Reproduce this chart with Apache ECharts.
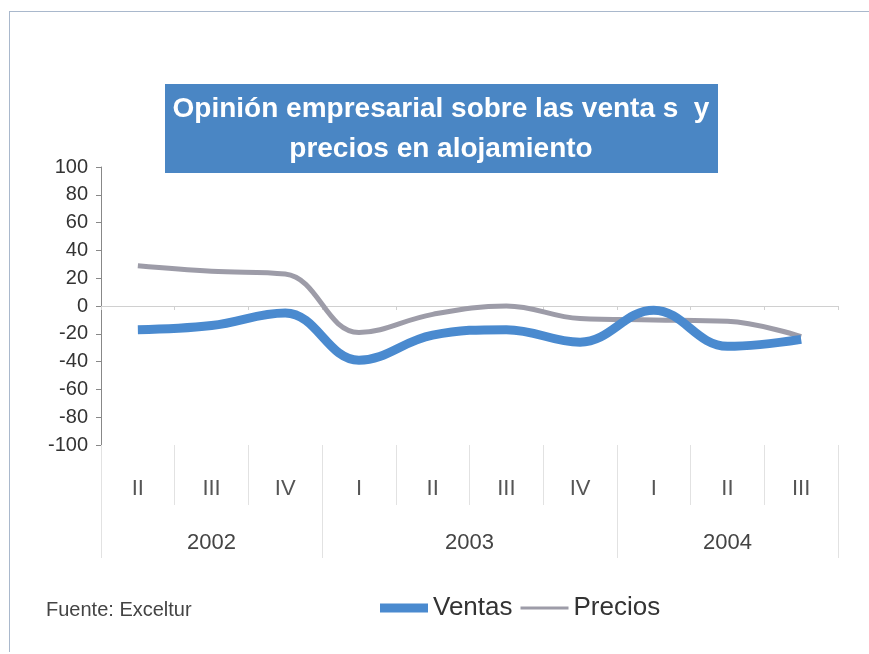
<!DOCTYPE html>
<html>
<head>
<meta charset="utf-8">
<script src="https://cdn.jsdelivr.net/npm/echarts@6/dist/echarts.min.js"></script>
<style>
  html, body { margin: 0; padding: 0; background: #fff; }
  #frame {
    position: absolute; left: 9px; top: 11px; width: 860px; height: 640px;
    border-left: 1px solid #a9b8cc; border-top: 1px solid #a9b8cc;
  }
  #chart { width: 869px; height: 654px; position: absolute; left: 0; top: 0; }
</style>
</head>
<body>
<div id="frame"></div>
<div id="chart"></div>
<script>
// trimestres
var quarters = ["II", "III", "IV", "I", "II", "III", "IV", "I", "II", "III"];
// años y cuántos trimestres tiene cada uno
var years = ["2002", "2003", "2004"];
var yearQuarters = [3, 4, 3];
var ventas = [-17, -14, -5, -39, -21, -17, -26, -3, -29, -24];
var precios = [29, 25, 23, -19, -6, 0, -9, -10, -11, -22];

// eje de años: medias posiciones de trimestre
var yearSlots = [];
var yearLabelIdx = {};
var yearTickIdx = { 0: true };
var pos = 0;
for (var i = 0; i < years.length; i++) {
  yearLabelIdx[pos + yearQuarters[i]] = years[i];
  pos += yearQuarters[i] * 2;
  yearTickIdx[pos] = true;
}
for (var k = 0; k <= pos; k++) {
  yearSlots.push(yearLabelIdx[k] || "");
}

var font = "Liberation Sans, Arial, sans-serif";
var blue = "#4a8acf";
var grey = "#9d9ca8";

var option = {
  animation: false,
  textStyle: { fontFamily: font },
  title: {
    text: "Fuente: Exceltur",
    left: 41,
    top: 595,
    textStyle: { fontSize: 20, fontWeight: "normal", color: "#444", fontFamily: font }
  },
  graphic: [
    {
      type: "rect",
      shape: { x: 165, y: 84, width: 553, height: 89 },
      style: { fill: "#4a86c4" }
    },
    {
      type: "text",
      x: 441,
      y: 129,
      style: {
        text: "Opinión empresarial sobre las venta s  y\nprecios en alojamiento",
        fill: "#fff",
        font: "bold 28px " + font,
        align: "center",
        verticalAlign: "middle",
        lineHeight: 40
      }
    }
  ],
  legend: {
    data: [
      { name: "Ventas", icon: "rect" },
      // barra fina para precios
      { name: "Precios", icon: "path://M0,0 L1,0 L1,0.01 Z M0,3 L48,3 L48,6 L0,6 Z M0,8.99 L1,8.99 L1,9 Z" }
    ],
    left: 375,
    top: 590,
    itemWidth: 48,
    itemHeight: 9,
    itemGap: 8,
    textStyle: { fontSize: 26, color: "#333", fontFamily: font }
  },
  grid: { left: 101, right: 31, top: 167, bottom: 209 },
  xAxis: [
    {
      type: "category",
      data: quarters,
      position: "bottom",
      axisLine: { show: false, onZero: false },
      axisTick: { show: true, length: 60, lineStyle: { color: "#e2e2e2" } },
      axisLabel: { margin: 33, fontSize: 22, color: "#555", interval: 0 }
    },
    {
      // línea del cero
      type: "category",
      data: quarters,
      position: "bottom",
      axisLine: { show: true, onZero: true, lineStyle: { color: "#d0d0d0" } },
      axisTick: { show: true, length: 4, lineStyle: { color: "#d0d0d0" } },
      axisLabel: { show: false }
    },
    {
      type: "category",
      data: yearSlots,
      boundaryGap: false,
      position: "bottom",
      axisLine: { show: false, onZero: false },
      axisTick: {
        show: true,
        length: 113,
        interval: function (idx) { return !!yearTickIdx[idx]; },
        lineStyle: { color: "#e2e2e2" }
      },
      axisLabel: {
        margin: 87,
        fontSize: 22,
        color: "#444",
        interval: function (idx) { return yearSlots[idx] !== ""; }
      }
    }
  ],
  yAxis: {
    type: "value",
    min: -100,
    max: 100,
    interval: 20,
    axisLine: { show: true, lineStyle: { color: "#888" } },
    axisTick: { show: true, length: 5, lineStyle: { color: "#888" } },
    axisLabel: { fontSize: 20, color: "#333", margin: 13 },
    splitLine: { show: false }
  },
  series: [
    {
      name: "Ventas",
      type: "line",
      data: ventas,
      smooth: 0.4,
      symbol: "none",
      lineStyle: { width: 9, color: blue },
      itemStyle: { color: blue },
      z: 3
    },
    {
      name: "Precios",
      type: "line",
      data: precios,
      smooth: 0.4,
      symbol: "none",
      lineStyle: { width: 5, color: grey },
      itemStyle: { color: grey },
      z: 2
    }
  ]
};

var chart = echarts.init(document.getElementById("chart"));
chart.setOption(option);
</script>
</body>
</html>
